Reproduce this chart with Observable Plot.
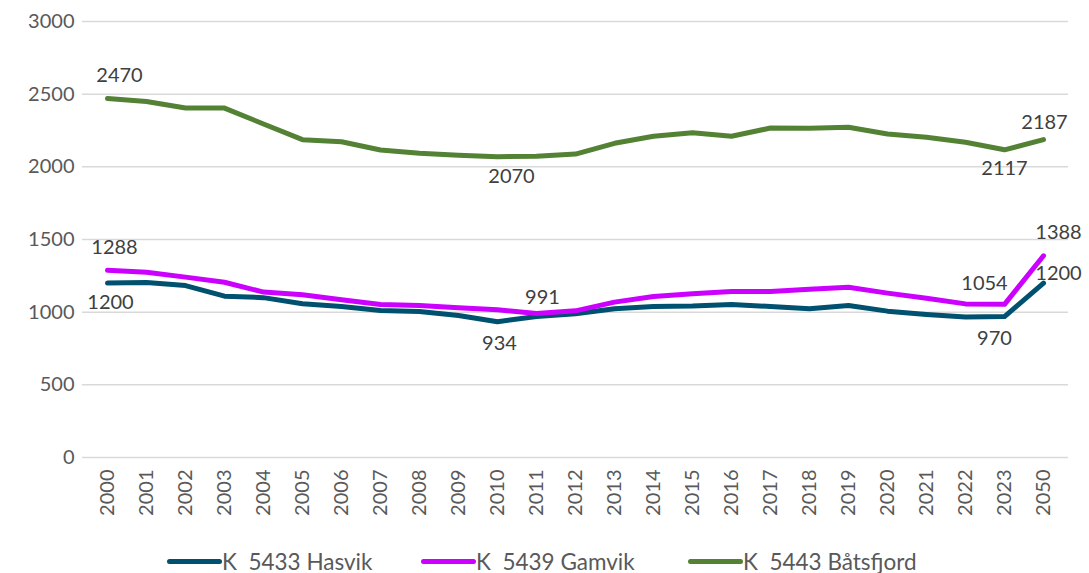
<!DOCTYPE html>
<html>
<head>
<meta charset="utf-8">
<script src="https://cdn.jsdelivr.net/npm/d3@7"></script>
<script src="https://cdn.jsdelivr.net/npm/@observablehq/plot@0.6"></script>
<style>
  html, body { margin: 0; padding: 0; background: #fff; }
  #chart { width: 1089px; height: 573px; position: relative; overflow: hidden; }
  #legend { position: relative; height: 32px; font-family: Lato, sans-serif; font-size: 22.5px; color: #595959; }
  .item { position: absolute; top: 0; height: 32px; display: flex; align-items: center; white-space: pre; }
  .sw { width: 55px; height: 5px; border-radius: 3px; }
</style>
</head>
<body>
<div id="chart"></div>
<script>
const years = ["2000","2001","2002","2003","2004","2005","2006","2007","2008","2009","2010","2011","2012","2013","2014","2015","2016","2017","2018","2019","2020","2021","2022","2023","2050"];
const seriesNames = ["K  5433 Hasvik", "K  5439 Gamvik", "K  5443 Båtsfjord"];
const seriesColors = ["#00506F", "#CC00FF", "#548235"];
const hasvik =    [1200,1204,1183,1110,1100,1058,1039,1012,1004,977,934,970,989,1023,1039,1042,1053,1039,1023,1046,1007,984,966,970,1200];
const gamvik =    [1288,1275,1241,1206,1138,1120,1085,1053,1046,1030,1016,991,1009,1069,1108,1126,1142,1142,1158,1172,1131,1096,1057,1054,1388];
const batsfjord = [2470,2450,2405,2404,2295,2187,2173,2116,2093,2079,2070,2072,2088,2162,2210,2235,2210,2267,2265,2272,2226,2203,2169,2117,2187];
const yTicks = [0, 500, 1000, 1500, 2000, 2500, 3000];
// data labels: [series index, year, value, dx, dy]
const labels = [
  [2, "2000", 2470, 12, -23], [2, "2010", 2070, 14, 20], [2, "2023", 2117, 0, 19], [2, "2050", 2187, 1, -17],
  [1, "2000", 1288, 7, -23], [1, "2011", 991, 6, -16], [1, "2023", 1054, -20, -21], [1, "2050", 1388, 15, -23],
  [0, "2000", 1200, 3, 19], [0, "2010", 934, 2, 22], [0, "2023", 970, -10, 22], [0, "2050", 1200, 15, -10]
];
const legendLeft = [167, 421, 688];

const allValues = [hasvik, gamvik, batsfjord];
const rows = [];
allValues.forEach((vals, s) => vals.forEach((v, i) => rows.push({year: years[i], value: v, series: seriesNames[s]})));
const labelRows = labels.map(([s, year, value, dx, dy]) => ({series: seriesNames[s], year, value, dx, dy}));

const textMarks = labelRows.map(d => Plot.text([d], {
  x: "year", y: "value", text: d => String(d.value), dx: d.dx, dy: d.dy,
  fill: "#404040", fontSize: 20
}));

const plot = Plot.plot({
  width: 1089,
  height: 545,
  marginLeft: 82,
  marginRight: 21,
  marginTop: 21,
  marginBottom: 88,
  style: { fontFamily: "Lato, sans-serif", background: "#fff", overflow: "visible" },
  x: { type: "point", domain: years, padding: 0.5 },
  y: { domain: [0, 3000] },
  color: { domain: seriesNames, range: seriesColors },
  marks: [
    Plot.ruleY(yTicks, { stroke: "#d9d9d9", strokeWidth: 1.5 }),
    Plot.axisY(yTicks, { tickSize: 0, tickPadding: 8, fontSize: 20, fill: "#595959", label: null, tickFormat: d => String(d) }),
    Plot.axisX({ tickSize: 0, tickPadding: 12, tickRotate: -90, fontSize: 20, fill: "#595959", label: null }),
    Plot.line(rows, { x: "year", y: "value", z: "series", stroke: "series", strokeWidth: 5,
      strokeLinejoin: "round", strokeLinecap: "round" }),
    ...textMarks
  ]
});

const chart = document.getElementById("chart");
chart.appendChild(plot);
const legend = document.createElement("div");
legend.id = "legend";
seriesNames.forEach((name, i) => {
  const item = document.createElement("div");
  item.className = "item";
  item.style.left = legendLeft[i] + "px";
  const sw = document.createElement("span");
  sw.className = "sw";
  sw.style.background = seriesColors[i];
  const tx = document.createElement("span");
  tx.textContent = name;
  item.appendChild(sw);
  item.appendChild(tx);
  legend.appendChild(item);
});
chart.appendChild(legend);
</script>
</body>
</html>
